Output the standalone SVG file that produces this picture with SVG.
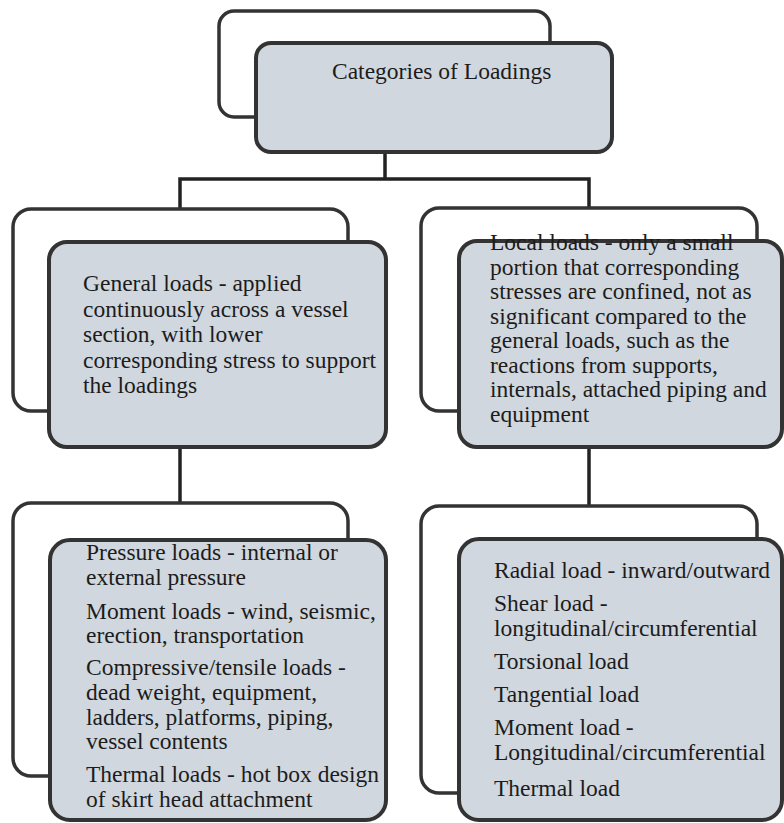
<svg xmlns="http://www.w3.org/2000/svg" width="784" height="823" viewBox="0 0 784 823">
<style>
.back{fill:#ffffff;stroke:#333333;stroke-width:3.5}
.front{fill:#d1d7de;stroke:#333333;stroke-width:4}
.conn{fill:none;stroke:#222222;stroke-width:3.5}
.t{font-family:'Liberation Serif','Times New Roman',serif;font-size:23.5px;fill:#1c1c1c}
</style>
<rect width="784" height="823" fill="#ffffff"/>
<g id="connectors">
<path class="conn" d="M385,152 V179 M180,210 V179 H589 V209"/>
<path class="conn" d="M180,447 V504"/>
<path class="conn" d="M589,447 V507"/>
</g>
<g id="node-categories">
<rect class="back" x="219" y="11" width="331" height="106" rx="15"/>
<rect class="front" x="256" y="43" width="356" height="109" rx="15"/>
<text class="t" x="332" y="79">Categories of Loadings</text>
</g>
<g id="node-general" class="t">
<rect class="back" x="13" y="209" width="335" height="202" rx="18"/>
<rect class="front" x="49" y="242" width="337" height="205" rx="18"/>
<text x="83" y="291">General loads - applied</text>
<text x="83" y="316.5">continuously across a vessel</text>
<text x="83" y="342">section, with lower</text>
<text x="83" y="367.5">corresponding stress to support</text>
<text x="83" y="393">the loadings</text>
</g>
<g id="node-local" class="t">
<rect class="back" x="421" y="208" width="336" height="203" rx="18"/>
<rect class="front" x="459" y="241" width="323" height="206" rx="18"/>
<text x="490" y="250">Local loads - only a small</text>
<text x="490" y="274.5">portion that corresponding</text>
<text x="490" y="299">stresses are confined, not as</text>
<text x="490" y="323.5">significant compared to the</text>
<text x="490" y="348">general loads, such as the</text>
<text x="490" y="372.5">reactions from supports,</text>
<text x="490" y="397">internals, attached piping and</text>
<text x="490" y="421.5">equipment</text>
</g>
<g id="node-general-types" class="t">
<rect class="back" x="13" y="503" width="335" height="273" rx="18"/>
<rect class="front" x="50" y="540" width="336" height="280" rx="20"/>
<text x="86" y="560">Pressure loads - internal or</text>
<text x="86" y="585">external pressure</text>
<text x="86" y="619">Moment loads - wind, seismic,</text>
<text x="86" y="643">erection, transportation</text>
<text x="86" y="675">Compressive/tensile loads -</text>
<text x="86" y="700">dead weight, equipment,</text>
<text x="86" y="725">ladders, platforms, piping,</text>
<text x="86" y="749">vessel contents</text>
<text x="86" y="782">Thermal loads - hot box design</text>
<text x="86" y="807">of skirt head attachment</text>
</g>
<g id="node-local-types" class="t">
<rect class="back" x="421" y="506" width="336" height="287" rx="18"/>
<rect class="front" x="459" y="539" width="323" height="281" rx="20"/>
<text x="494" y="578">Radial load - inward/outward</text>
<text x="494" y="611">Shear load -</text>
<text x="494" y="636">longitudinal/circumferential</text>
<text x="494" y="669">Torsional load</text>
<text x="494" y="702">Tangential load</text>
<text x="494" y="735">Moment load -</text>
<text x="494" y="760">Longitudinal/circumferential</text>
<text x="494" y="796">Thermal load</text>
</g>
</svg>
